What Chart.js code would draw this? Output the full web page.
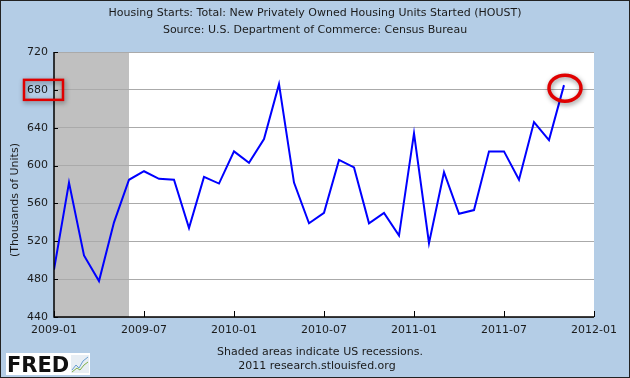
<!DOCTYPE html>
<html>
<head>
<meta charset="utf-8">
<script src="https://cdn.jsdelivr.net/npm/chart.js@4/dist/chart.umd.min.js"></script>
<style>
html,body{margin:0;padding:0;background:#b4cde6;}
#wrap{width:630px;height:378px;position:relative;}
</style>
</head>
<body>
<div id="wrap"><canvas id="c" width="630" height="378"></canvas></div>
<script>
// Monthly housing starts, 2009-01 .. 2011-11 (thousands of units)
const months = ['2009-01','2009-02','2009-03','2009-04','2009-05','2009-06','2009-07','2009-08','2009-09','2009-10','2009-11','2009-12',
  '2010-01','2010-02','2010-03','2010-04','2010-05','2010-06','2010-07','2010-08','2010-09','2010-10','2010-11','2010-12',
  '2011-01','2011-02','2011-03','2011-04','2011-05','2011-06','2011-07','2011-08','2011-09','2011-10','2011-11'];
const houst = [490,582,505,478,540,585,594,586,585,534,588,581,
  615,603,628,686,582,539,550,606,598,539,550,526,
  634,518,593,549,553,615,615,585,646,627,685];
const xTickLabels = ['2009-01','2009-07','2010-01','2010-07','2011-01','2011-07','2012-01'];
const yTicks = [440,480,520,560,600,640,680,720];
// Recession shading: month indices (from 2009-01)
const recessionStart = 0, recessionEnd = 5;
const highlightTick = 680;

const points = houst.map((v,i)=>({x:i,y:v}));

const decor = {
  id:'decor',
  beforeDraw(chart){
    const ctx = chart.ctx, a = chart.chartArea, xs = chart.scales.x;
    ctx.save();
    ctx.fillStyle = '#b4cde6';
    ctx.fillRect(0,0,chart.width,chart.height);
    ctx.fillStyle = '#ffffff';
    ctx.fillRect(a.left,a.top,a.right-a.left,a.bottom-a.top);
    ctx.fillStyle = '#c0c0c0';
    const x0 = xs.getPixelForValue(recessionStart), x1 = xs.getPixelForValue(recessionEnd);
    ctx.fillRect(x0,a.top,x1-x0,a.bottom-a.top);
    // titles
    ctx.fillStyle = '#1a1a1a';
    ctx.font = '11px "DejaVu Sans"';
    ctx.textAlign = 'center';
    ctx.textBaseline = 'middle';
    ctx.fillText('Housing Starts: Total: New Privately Owned Housing Units Started (HOUST)', 315, 13);
    ctx.fillText('Source: U.S. Department of Commerce: Census Bureau', 315, 30);
    ctx.fillText('Shaded areas indicate US recessions.', 320, 352);
    ctx.fillText('2011 research.stlouisfed.org', 317, 366);
    // y-axis title
    ctx.save();
    ctx.translate(15, 200);
    ctx.rotate(-Math.PI/2);
    ctx.fillText('(Thousands of Units)', 0, 0);
    ctx.restore();
    ctx.restore();
  },
  afterDatasetsDraw(chart){
    const ctx = chart.ctx, a = chart.chartArea, xs = chart.scales.x, ys = chart.scales.y;
    ctx.save();
    // axis lines
    ctx.strokeStyle = '#000';
    ctx.lineWidth = 1.5;
    ctx.beginPath();
    ctx.moveTo(a.left, a.top); ctx.lineTo(a.left, a.bottom); ctx.lineTo(a.right, a.bottom);
    ctx.stroke();
    // x ticks inside
    ctx.lineWidth = 1;
    xs.ticks.forEach(t=>{
      const px = Math.round(xs.getPixelForValue(t.value))+0.5;
      ctx.beginPath(); ctx.moveTo(px, a.bottom); ctx.lineTo(px, a.bottom-6); ctx.stroke();
    });
    // y ticks
    ys.ticks.forEach(t=>{
      const py = Math.round(ys.getPixelForValue(t.value))+0.5;
      ctx.beginPath(); ctx.moveTo(a.left, py); ctx.lineTo(a.left+4, py); ctx.stroke();
    });
    // red annotations
    ctx.shadowColor = 'rgba(0,0,0,0.45)';
    ctx.shadowBlur = 5;
    ctx.shadowOffsetX = 1; ctx.shadowOffsetY = 2;
    ctx.strokeStyle = '#e00000';
    ctx.lineWidth = 2.5;
    const hy = ys.getPixelForValue(highlightTick);
    ctx.strokeRect(24, hy-10, 39, 20);
    const lx = xs.getPixelForValue(houst.length-1), ly = ys.getPixelForValue(houst[houst.length-1]);
    ctx.lineWidth = 3.5;
    ctx.beginPath();
    ctx.ellipse(lx+1, ly+3, 16, 13, 0, 0, Math.PI*2);
    ctx.stroke();
    ctx.restore();
    // FRED logo
    ctx.save();
    ctx.fillStyle = '#ffffff';
    ctx.fillRect(6, 353, 84, 22);
    ctx.fillStyle = '#111';
    ctx.font = 'bold 21px "DejaVu Sans"';
    ctx.textAlign = 'left';
    ctx.textBaseline = 'alphabetic';
    ctx.fillText('FRED', 7, 372);
    ctx.fillStyle = '#e8eef4';
    ctx.fillRect(71, 355, 18, 18);
    ctx.strokeStyle = '#6a9fd0'; ctx.lineWidth = 1;
    ctx.beginPath(); ctx.moveTo(72,370); ctx.lineTo(76,365); ctx.lineTo(79,368); ctx.lineTo(83,361); ctx.lineTo(88,357); ctx.stroke();
    ctx.strokeStyle = '#7fb04a';
    ctx.beginPath(); ctx.moveTo(72,372); ctx.lineTo(77,368); ctx.lineTo(80,370); ctx.lineTo(84,365); ctx.lineTo(88,362); ctx.stroke();
    // outer border
    ctx.strokeStyle = '#222'; ctx.lineWidth = 1;
    ctx.strokeRect(0.5,0.5,chart.width-1,chart.height-1);
    ctx.restore();
  }
};

new Chart(document.getElementById('c'), {
  type:'line',
  data:{datasets:[{data:points, borderColor:'#0000ff', borderWidth:2, pointRadius:0, tension:0, fill:false}]},
  options:{
    responsive:false, animation:false, devicePixelRatio:1,
    layout:{padding:{left:0,right:36,top:52,bottom:0}},
    plugins:{legend:{display:false}, tooltip:{enabled:false}},
    scales:{
      x:{type:'linear', min:0, max:36,
        afterBuildTicks(s){ s.ticks = xTickLabels.map((l,i)=>({value:i*6})); },
        afterFit(s){ s.height = 61; },
        ticks:{callback:(v,i)=>xTickLabels[i], color:'#1a1a1a', font:{family:'DejaVu Sans', size:11}, maxRotation:0, padding:7, autoSkip:false},
        grid:{display:false, drawTicks:false},
        border:{display:false}
      },
      y:{type:'linear', min:440, max:720,
        afterBuildTicks(s){ s.ticks = yTicks.map(v=>({value:v})); },
        afterFit(s){ s.width = 54; },
        ticks:{color:'#1a1a1a', font:{family:'DejaVu Sans', size:11}, padding:6},
        grid:{color:'#aaaaaa', lineWidth:1, drawTicks:false},
        border:{display:false}
      }
    }
  },
  plugins:[decor]
});
</script>
</body>
</html>
